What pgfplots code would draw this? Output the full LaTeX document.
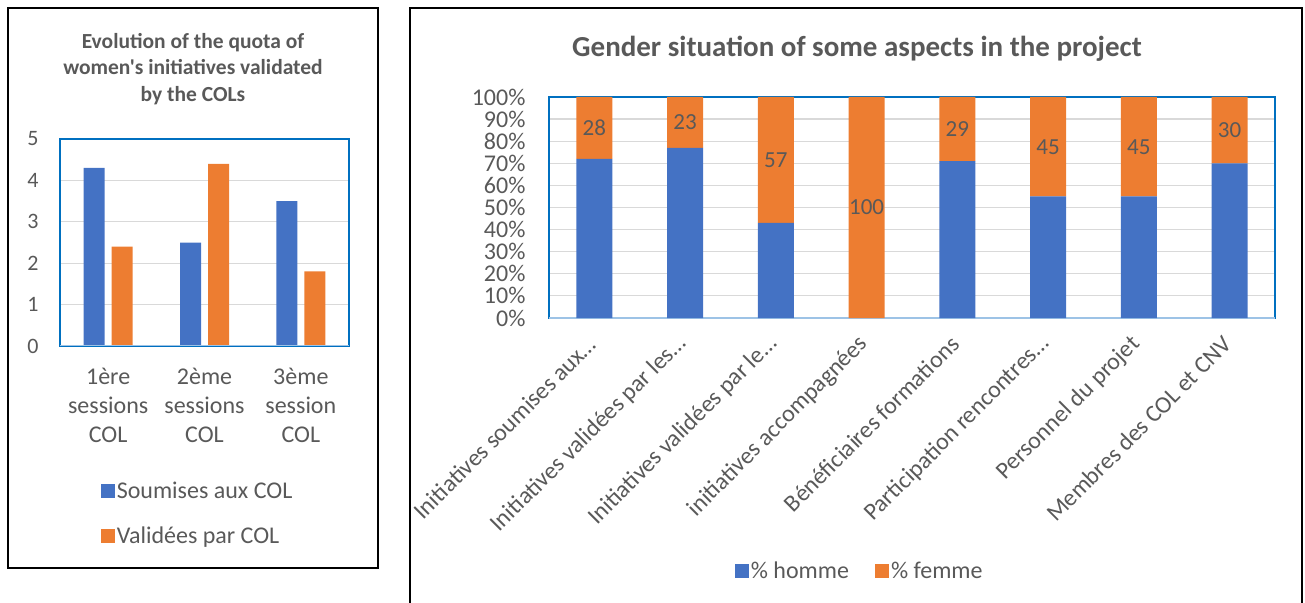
\documentclass[border=0pt]{standalone}
\usepackage{fontspec}
\setmainfont{Carlito}[Ligatures=TeXOff]
\usepackage{pgfplots}
\pgfplotsset{compat=1.18}

\definecolor{cblue}{HTML}{4472C4}
\definecolor{corange}{HTML}{ED7D31}
\definecolor{cframe}{HTML}{0070C0}
\definecolor{cgrid}{HTML}{D9D9D9}
\definecolor{cbase}{HTML}{9DC3E6}
\definecolor{ctext}{HTML}{595959}

\pgfplotsset{
  xlbox/.style={
    scale only axis,
    anchor=south west,
    axis line style={cframe, line width=2.8pt},
    ymajorgrids,
    grid style={cgrid, line width=1.2pt},
    major tick length=0pt,
    tick label style={text=ctext},
    /pgf/number format/assume math mode=true,
    legend style={draw=none, fill=none, text=ctext},
  },
  sqlegend/.style={
    legend image code/.code={\fill[##1] (0pt,-7pt) rectangle (14pt,7pt);},
  },
}

\begin{document}
\begin{tikzpicture}
\useasboundingbox (0,0) rectangle (1305pt,602pt);

% frames around the two charts
\draw[black, line width=1.3pt] (8pt,34pt) rectangle (378pt,594pt);
\draw[black, line width=1.3pt] (410pt,-5pt) rectangle (1302pt,594pt);

% titles
\node[align=center, text=ctext, font=\bfseries\fontsize{21.5}{26.5}\selectfont]
  at (193pt,533pt) {Evolution of the quota of\\women's initiatives validated\\by the COLs};
\node[text=ctext, font=\bfseries\fontsize{29}{34}\selectfont]
  at (857pt,553pt) {Gender situation of some aspects in the project};

% left chart
\begin{axis}[xlbox,
  at={(60pt,256pt)}, width=289pt, height=207pt,
  ybar=7pt, bar width=21pt, sqlegend,
  xmin=-0.5, xmax=2.5, ymin=0, ymax=5,
  ytick={0,1,2,3,4,5},
  xtick={0,1,2},
  xticklabels={{1ère\\sessions\\COL},{2ème\\sessions\\COL},{3ème\\session\\COL}},
  xticklabel style={align=center, font=\fontsize{24}{29}\selectfont, yshift=-19pt},
  yticklabel style={font=\fontsize{22}{24}\selectfont, xshift=-18pt},
  legend style={at={(0.13,-0.636)}, anchor=north west, legend cell align=left,
    font=\fontsize{24}{28}\selectfont, row sep=23pt},
]
\addplot[fill=cblue, draw=none] coordinates {(0,4.3) (1,2.5) (2,3.5)};
\addplot[fill=corange, draw=none] coordinates {(0,2.4) (1,4.4) (2,1.8)};
\legend{Soumises aux COL, Validées par COL}
\draw[cbase, line width=2pt] (rel axis cs:0,0) -- (rel axis cs:1,0);
\end{axis}

% right chart
\begin{axis}[xlbox,
  at={(549pt,284pt)}, width=726pt, height=221pt,
  ybar stacked, bar width=36pt, sqlegend,
  xmin=-0.5, xmax=7.5, ymin=0, ymax=100,
  ytick={0,10,...,100},
  yticklabels={0\%,10\%,20\%,30\%,40\%,50\%,60\%,70\%,80\%,90\%,100\%},
  yticklabel style={font=\fontsize{24}{24}\selectfont, xshift=-20pt},
  xtick={0,...,7},
  xticklabels={Initiatives soumises aux…, Initiatives validées par les…,
    Initiatives validées par le…, initiatives accompagnées,
    Bénéficiaires formations, Participation rencontres…,
    Personnel du projet, Membres des COL et CNV},
  xticklabel style={rotate=45, anchor=east, font=\fontsize{24}{26}\selectfont},
  xticklabel shift=20pt,
  legend columns=-1,
  legend style={at={(0.428,-1.145)}, anchor=center,
    font=\fontsize{24}{28}\selectfont,
    /tikz/every even column/.append style={column sep=24pt}},
]
\addplot[fill=cblue, draw=none] coordinates {(0,72) (1,77) (2,43) (3,0) (4,71) (5,55) (6,55) (7,70)};
\addplot[fill=corange, draw=none] coordinates {(0,28) (1,23) (2,57) (3,100) (4,29) (5,45) (6,45) (7,30)};
\legend{\% homme, \% femme}
\draw[cbase, line width=2pt] (rel axis cs:0,0) -- (rel axis cs:1,0);
\end{axis}

% value labels of the "% femme" segments, at the middle of each segment
\begin{axis}[
  scale only axis, anchor=south west,
  at={(549pt,284pt)}, width=726pt, height=221pt,
  xmin=-0.5, xmax=7.5, ymin=0, ymax=100,
  hide axis,
]
\addplot[draw=none, mark=none, nodes near coords, point meta=explicit symbolic,
  every node near coord/.append style={anchor=center, text=ctext,
    font=\fontsize{23}{24}\selectfont}]
  coordinates {(0,86)[28] (1,88.5)[23] (2,71.5)[57] (3,50)[100]
               (4,85.5)[29] (5,77.5)[45] (6,77.5)[45] (7,85)[30]};
\end{axis}
\end{tikzpicture}
\end{document}
